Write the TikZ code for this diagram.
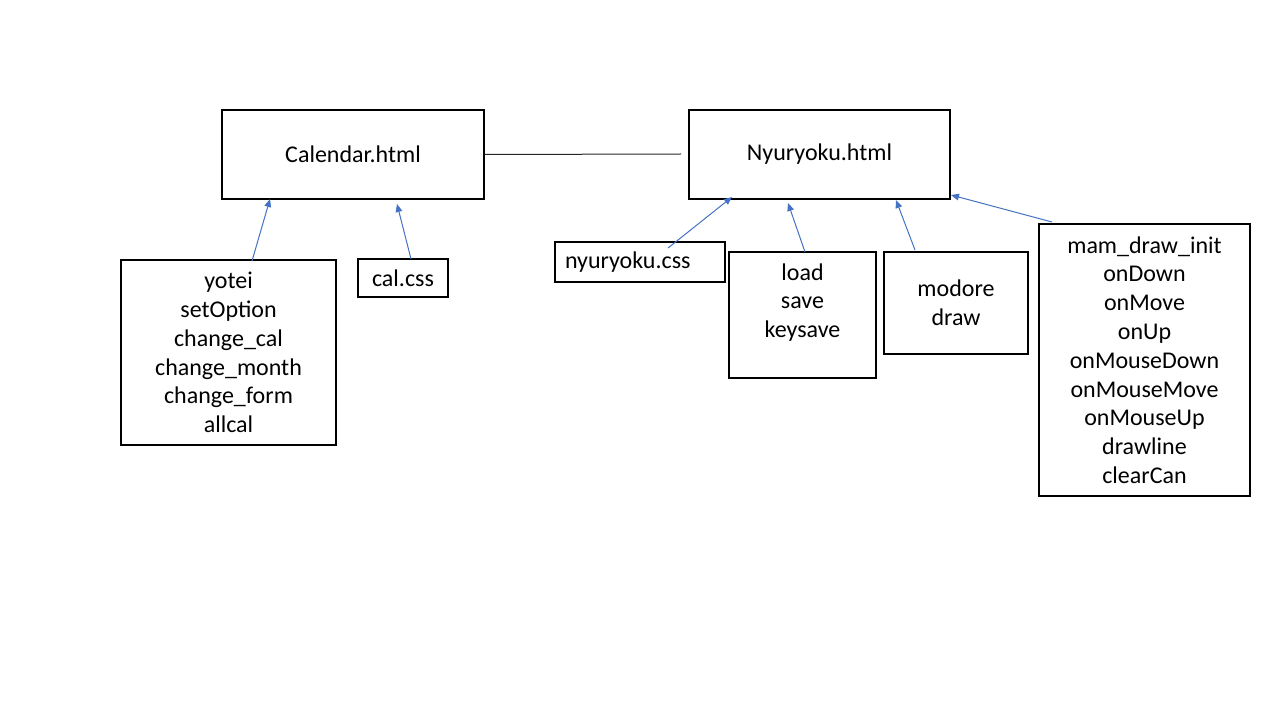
\documentclass[tikz,border=0pt]{standalone}
\usepackage{fontspec}
\setmainfont{Carlito}
\usetikzlibrary{arrows.meta}
\definecolor{arrowblue}{HTML}{4472C4}
\tikzset{
  box/.style={draw=black, line width=0.8pt, align=center, inner sep=0pt,
    font=\fontsize{18}{21.6}\selectfont},
  dep/.style={draw=arrowblue, line width=0.75pt, -{Triangle[length=6pt,width=5pt]}},
  link/.style={draw=black!85, line width=0.75pt}
}
\begin{document}
\begin{tikzpicture}[x=0.75pt,y=-0.75pt]
\useasboundingbox (0,0) rectangle (1280,720);
% boxes
\node[box, minimum width=196.5pt, minimum height=66.75pt] (cal) at (353,154.5) {Calendar.html};
\node[box, minimum width=195.75pt, minimum height=66.75pt] (nyu) at (819.5,154.5) {Nyuryoku.html};
\node[box, minimum width=161.25pt, minimum height=138.75pt] (yotei) at (228.5,352.5)
  {yotei\\setOption\\change\_cal\\change\_month\\change\_form\\allcal};
\node[box, minimum width=67.5pt, minimum height=28.5pt] (calcss) at (403,278) {cal.css};
\node[box, align=left, text width=112.5pt, inner xsep=7.5pt, minimum height=30pt] (nyucss) at (640,262) {nyuryoku.css};
\node[box, minimum width=110.25pt, minimum height=94.5pt] (load) at (802.5,315)
  {load\\save\\keysave\\\mbox{}};
\node[box, minimum width=108pt, minimum height=76.5pt] (modore) at (956,303) {modore\\draw};
\node[box, minimum width=158.25pt, minimum height=204pt] (mam) at (1144.5,360)
  {mam\_draw\_init\\onDown\\onMove\\onUp\\onMouseDown\\onMouseMove\\onMouseUp\\drawline\\clearCan};
% connector ends
\coordinate (linkend) at (681,154);
\coordinate (yoteiS) at (252,261);
\coordinate (yoteiT) at (270,199);
\coordinate (calcssS) at (411,259);
\coordinate (calcssT) at (397,204);
\coordinate (nyucssS) at (668,248);
\coordinate (nyucssT) at (732,197);
\coordinate (loadS) at (805,252);
\coordinate (loadT) at (788,203);
\coordinate (modoreS) at (915,250);
\coordinate (modoreT) at (896,200);
\coordinate (mamS) at (1052,222);
\coordinate (mamT) at (951,195);
% connectors
\draw[link] (cal.east) -- (linkend);
\draw[dep] (yoteiS) -- (yoteiT);
\draw[dep] (calcssS) -- (calcssT);
\draw[dep] (nyucssS) -- (nyucssT);
\draw[dep] (loadS) -- (loadT);
\draw[dep] (modoreS) -- (modoreT);
\draw[dep] (mamS) -- (mamT);
\end{tikzpicture}
\end{document}
